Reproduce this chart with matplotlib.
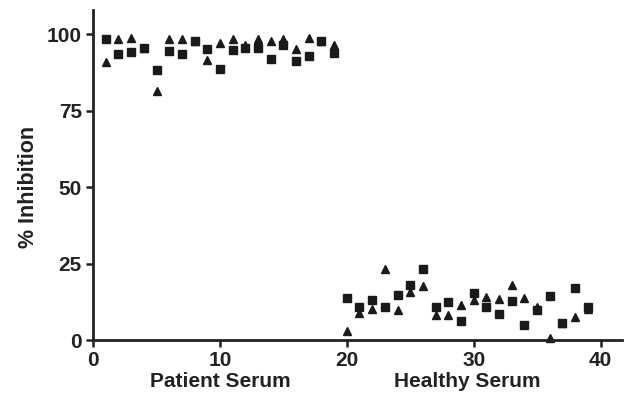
import matplotlib.pyplot as plt

plt.rcParams['font.family'] = ['Liberation Sans', 'DejaVu Sans']
plt.rcParams['font.weight'] = 'bold'

# Sample numbers (1-19 patient serum, 20-39 healthy serum)
patient_x = list(range(1, 20))
healthy_x = list(range(20, 40))

# Square series
patient_sq = [98.5, 93.6, 94.4, 95.6, 88.3, 94.6, 93.7, 98.0, 95.4, 88.6,
              95.0, 95.6, 95.5, 91.9, 96.5, 91.4, 92.9, 97.9, 93.8]
healthy_sq = [13.7, 10.8, 13.0, 10.7, 14.7, 17.9, 23.3, 10.7, 12.3, 6.2,
              15.5, 10.9, 8.6, 12.9, 5.0, 9.7, 14.4, 5.7, 17.0, 10.7]

# Triangle series
patient_tri = [91.0, 98.5, 98.9, 95.6, 81.5, 98.5, 98.5, 98.0, 91.8, 97.1,
               98.4, 96.5, 98.4, 97.7, 98.5, 95.1, 98.8, 97.9, 96.4]
healthy_tri = [2.8, 8.7, 10.1, 23.3, 9.8, 15.6, 17.7, 8.2, 8.2, 11.5,
               13.1, 14.2, 13.4, 18.1, 13.8, 10.9, 0.7, 5.5, 7.4, 10.1]

fig = plt.figure(figsize=(6.29, 4.0), dpi=100)
ax = fig.add_axes([0.148, 0.15, 0.841, 0.825])

ax.plot(patient_x + healthy_x, patient_tri + healthy_tri, linestyle='none',
        marker='^', markersize=5.5, color='#1a1a1a', clip_on=False)
ax.plot(patient_x + healthy_x, patient_sq + healthy_sq, linestyle='none',
        marker='s', markersize=5.5, color='#1a1a1a', clip_on=False)

ax.set_xlim(0, 41.7)
ax.set_ylim(0, 108)
ax.set_xticks([0, 10, 20, 30, 40])
ax.set_yticks([0, 25, 50, 75, 100])

for side in ['top', 'right']:
    ax.spines[side].set_visible(False)
for side in ['left', 'bottom']:
    ax.spines[side].set_linewidth(2)
    ax.spines[side].set_color('#222222')

ax.tick_params(axis='both', direction='out', length=5, width=1.8,
               color='#222222', labelsize=15, labelcolor='#222222', pad=3)
ax.set_ylabel('% Inhibition', fontsize=15.5, fontweight='bold',
              color='#222222')
ax.yaxis.set_label_coords(-0.103, 0.463)

ax.text(10, -0.127, 'Patient Serum', transform=ax.get_xaxis_transform(),
        ha='center', va='center', fontsize=15, fontweight='bold', color='#222222')
ax.text(29.5, -0.127, 'Healthy Serum', transform=ax.get_xaxis_transform(),
        ha='center', va='center', fontsize=15, fontweight='bold', color='#222222')

fig.savefig('out.png', dpi=100)
